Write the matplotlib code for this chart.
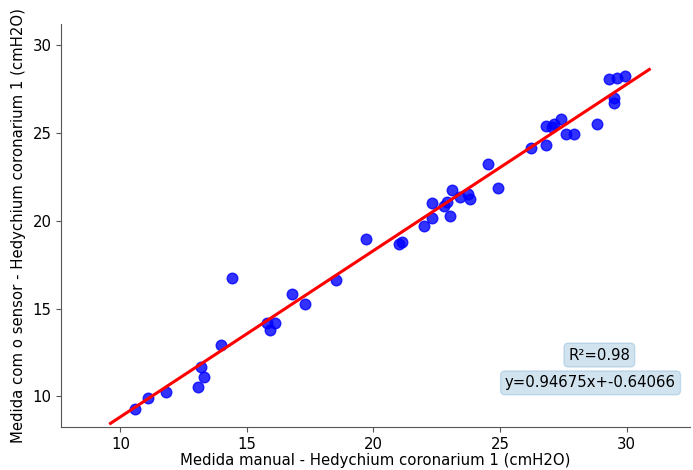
import matplotlib
matplotlib.use("Agg")
import matplotlib.pyplot as plt
import numpy as np

# manual reading (x) vs sensor reading (y), cmH2O
manual = [10.58, 11.09, 11.80, 13.07, 13.19, 13.31, 13.98, 14.41, 15.79, 15.91,
          16.11, 16.78, 17.30, 18.52, 19.70, 21.01, 21.13, 21.99, 22.31, 22.31,
          22.78, 22.91, 23.02, 23.10, 23.42, 23.73, 23.81, 24.52, 24.92, 26.21,
          26.81, 26.81, 27.05, 27.13, 27.41, 27.60, 27.92, 28.82, 29.30, 29.61,
          29.93, 29.50, 29.50]
sensor = [9.25, 9.93, 10.27, 10.55, 11.68, 11.12, 12.93, 16.73, 14.18, 13.78,
          14.18, 15.83, 15.26, 16.62, 18.95, 18.66, 18.77, 19.68, 20.13, 20.98,
          20.81, 21.04, 20.25, 21.72, 21.33, 21.50, 21.22, 23.20, 21.84, 24.16,
          25.41, 24.33, 25.35, 25.52, 25.81, 24.96, 24.96, 25.52, 28.08, 28.13,
          28.25, 27.00, 26.72]

slope = 0.94675
intercept = -0.64066
r2 = 0.98

x_label = "Medida manual - Hedychium coronarium 1 (cmH2O)"
y_label = "Medida com o sensor - Hedychium coronarium 1 (cmH2O)"

plt.rcParams["font.size"] = 10.7

fig = plt.figure(figsize=(6.93, 4.70), dpi=100)
ax = fig.add_axes([0.0885, 0.091, 0.907, 0.858])

ax.scatter(manual, sensor, s=58, color="blue", alpha=0.8, linewidths=1, zorder=3)

# linha de regressão, estendida 5% além dos dados
xmin, xmax = min(manual), max(manual)
pad = 0.05 * (xmax - xmin)
xs = np.array([xmin - pad, xmax + pad])
ax.plot(xs, slope * xs + intercept, color="red", linewidth=2.2, zorder=4)

ax.set_xlim(7.67, 32.5)
ax.set_ylim(8.24, 31.2)
ax.set_xticks([10, 15, 20, 25, 30])
ax.set_yticks([10, 15, 20, 25, 30])

ax.spines["top"].set_visible(False)
ax.spines["right"].set_visible(False)
for s in ("left", "bottom"):
    ax.spines[s].set_color("#555555")
ax.tick_params(colors="#555555", labelcolor="black")

ax.set_xlabel(x_label, labelpad=1)
ax.set_ylabel(y_label, labelpad=5)

box = dict(boxstyle="round", facecolor="C0", edgecolor="C0", alpha=0.2)
ax.text(0.856, 0.179, f"R\u00b2={r2}", transform=ax.transAxes,
        ha="center", va="center", bbox=box)
ax.text(0.842, 0.110, f"y={slope}x+{intercept}", transform=ax.transAxes,
        ha="center", va="center", bbox=box)

fig.savefig("out.png", dpi=100)
